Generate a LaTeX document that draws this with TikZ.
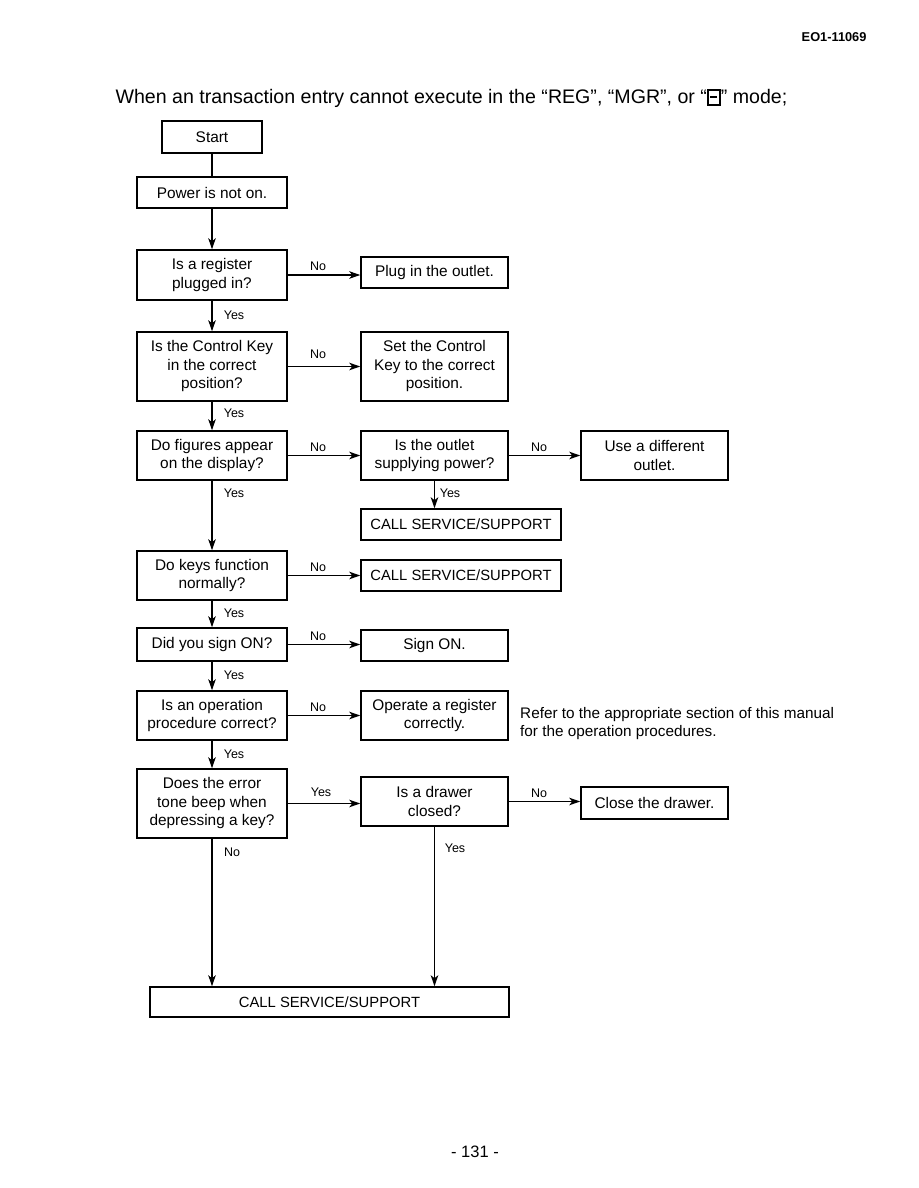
\documentclass[tikz,border=0pt]{standalone}
\usepackage{fontspec}
\setmainfont{Liberation Sans}
\usetikzlibrary{arrows.meta}
\begin{document}
\begin{tikzpicture}[x=1pt,y=-1pt,
  box/.style={draw, line width=1.5pt, align=center, inner sep=0pt,
    font=\fontsize{15.4}{18.5}\selectfont},
  lbl/.style={font=\fontsize{12.5}{14}\selectfont, inner sep=0pt},
  conn/.style={line width=1.5pt},
  arr/.style={line width=1.5pt, -{Stealth[length=11pt,width=7.5pt,inset=3pt]}}]
\useasboundingbox (0,0) rectangle (918,1188);
% header
\node[font=\bfseries\fontsize{12.8}{14}\selectfont, anchor=east] (hdr) at (870,37) {EO1-11069};
\node[font=\fontsize{19.6}{24}\selectfont, anchor=west] (title) at (112,98)
  {When an transaction entry cannot execute in the “REG”, “MGR”, or “{\setlength{\fboxsep}{0pt}\setlength{\fboxrule}{1.6pt}\fbox{\hspace{1.8pt}\rule[5.2pt]{7pt}{1.8pt}\hspace{1.8pt}\rule[-1pt]{0pt}{13pt}}}” mode;};
% boxes
\node[box, minimum width=100pt, minimum height=32pt] (start) at (212,137) {Start};
\node[box, minimum width=150pt, minimum height=31pt] (power) at (212,192.5) {Power is not on.};
\node[box, minimum width=150pt, minimum height=50pt] (reg) at (212,275) {Is a register\\plugged in?};
\node[box, minimum width=147pt, minimum height=31pt] (plug) at (434.5,272.5) {Plug in the outlet.};
\node[box, minimum width=150pt, minimum height=69pt] (ctrl) at (212,366.5) {Is the Control Key\\in the correct\\position?};
\node[box, minimum width=147pt, minimum height=69pt] (setk) at (434.5,366.5) {Set the Control\\Key to the correct\\position.};
\node[box, minimum width=150pt, minimum height=49pt] (fig) at (212,455.5) {Do figures appear\\on the display?};
\node[box, minimum width=147pt, minimum height=49pt] (outlet) at (434.5,455.5) {Is the outlet\\supplying power?};
\node[box, minimum width=147pt, minimum height=49pt] (diff) at (654.5,455.5) {Use a different\\outlet.};
\node[box, minimum width=200pt, minimum height=31pt, font=\fontsize{14.8}{18.5}\selectfont] (call1) at (461,524.5) {CALL SERVICE/SUPPORT};
\node[box, minimum width=150pt, minimum height=49pt] (keys) at (212,575.5) {Do keys function\\normally?};
\node[box, minimum width=200pt, minimum height=31pt, font=\fontsize{14.8}{18.5}\selectfont] (call2) at (461,575.5) {CALL SERVICE/SUPPORT};
\node[box, minimum width=150pt, minimum height=33pt] (sign) at (212,644.5) {Did you sign ON?};
\node[box, minimum width=147pt, minimum height=31pt] (signon) at (434.5,645.5) {Sign ON.};
\node[box, minimum width=150pt, minimum height=49pt] (op) at (212,715.5) {Is an operation\\procedure correct?};
\node[box, minimum width=147pt, minimum height=49pt] (operate) at (434.5,715.5) {Operate a register\\correctly.};
\node[font=\fontsize{15.3}{18.5}\selectfont, align=left, anchor=west, inner sep=0pt] (refer) at (520,723.5)
  {Refer to the appropriate section of this manual\\for the operation procedures.};
\node[box, minimum width=150pt, minimum height=69pt] (err) at (212,803.5) {Does the error\\tone beep when\\depressing a key?};
\node[box, minimum width=147pt, minimum height=49pt] (drawer) at (434.5,801.5) {Is a drawer\\closed?};
\node[box, minimum width=147pt, minimum height=32pt] (close) at (654.5,803) {Close the drawer.};
\node[box, minimum width=359pt, minimum height=30pt, font=\fontsize{14.8}{18.5}\selectfont] (final) at (329.5,1002) {CALL SERVICE/SUPPORT};
\node[font=\fontsize{16.5}{18}\selectfont] (page) at (475,1152) {- 131 -};
% vertical main line
\draw[conn] (start) -- (power);
\draw[arr] (power) -- (reg);
\draw[arr] (reg) -- (ctrl);
\draw[arr] (ctrl) -- (fig);
\draw[arr] (fig) -- (keys);
\draw[arr] (keys) -- (sign);
\draw[arr] (sign) -- (op);
\draw[arr] (op) -- (err);
\draw[arr] (err.south) -- (err.south |- final.north);
\draw[arr] (drawer.south) -- (drawer.south |- final.north);
\draw[arr] (outlet) -- (call1.north -| outlet.south);
% horizontal
\draw[arr] (reg.east) -- (reg.east -| plug.west);
\draw[arr] (ctrl.east) -- (ctrl.east -| setk.west);
\draw[arr] (fig.east) -- (fig.east -| outlet.west);
\draw[arr] (outlet.east) -- (outlet.east -| diff.west);
\draw[arr] (keys.east) -- (keys.east -| call2.west);
\draw[arr] (sign.east) -- (sign.east -| signon.west);
\draw[arr] (op.east) -- (op.east -| operate.west);
\draw[arr] (err.east) -- (err.east -| drawer.west);
\draw[arr] (drawer.east) -- (drawer.east -| close.west);
% labels
\node[lbl] (l1) at (318,266) {No};
\node[lbl] (l2) at (318,354) {No};
\node[lbl] (l3) at (318,447) {No};
\node[lbl] (l4) at (539,447) {No};
\node[lbl] (l5) at (318,567) {No};
\node[lbl] (l6) at (318,636) {No};
\node[lbl] (l7) at (318,707) {No};
\node[lbl] (l8) at (321,792) {Yes};
\node[lbl] (l9) at (539,793) {No};
\node[lbl] (y1) at (234,315) {Yes};
\node[lbl] (y2) at (234,413) {Yes};
\node[lbl] (y3) at (234,493) {Yes};
\node[lbl] (y4) at (450,493) {Yes};
\node[lbl] (y5) at (234,613) {Yes};
\node[lbl] (y6) at (234,675) {Yes};
\node[lbl] (y7) at (234,754) {Yes};
\node[lbl] (n8) at (232,852) {No};
\node[lbl] (y9) at (455,848) {Yes};
\end{tikzpicture}
\end{document}
